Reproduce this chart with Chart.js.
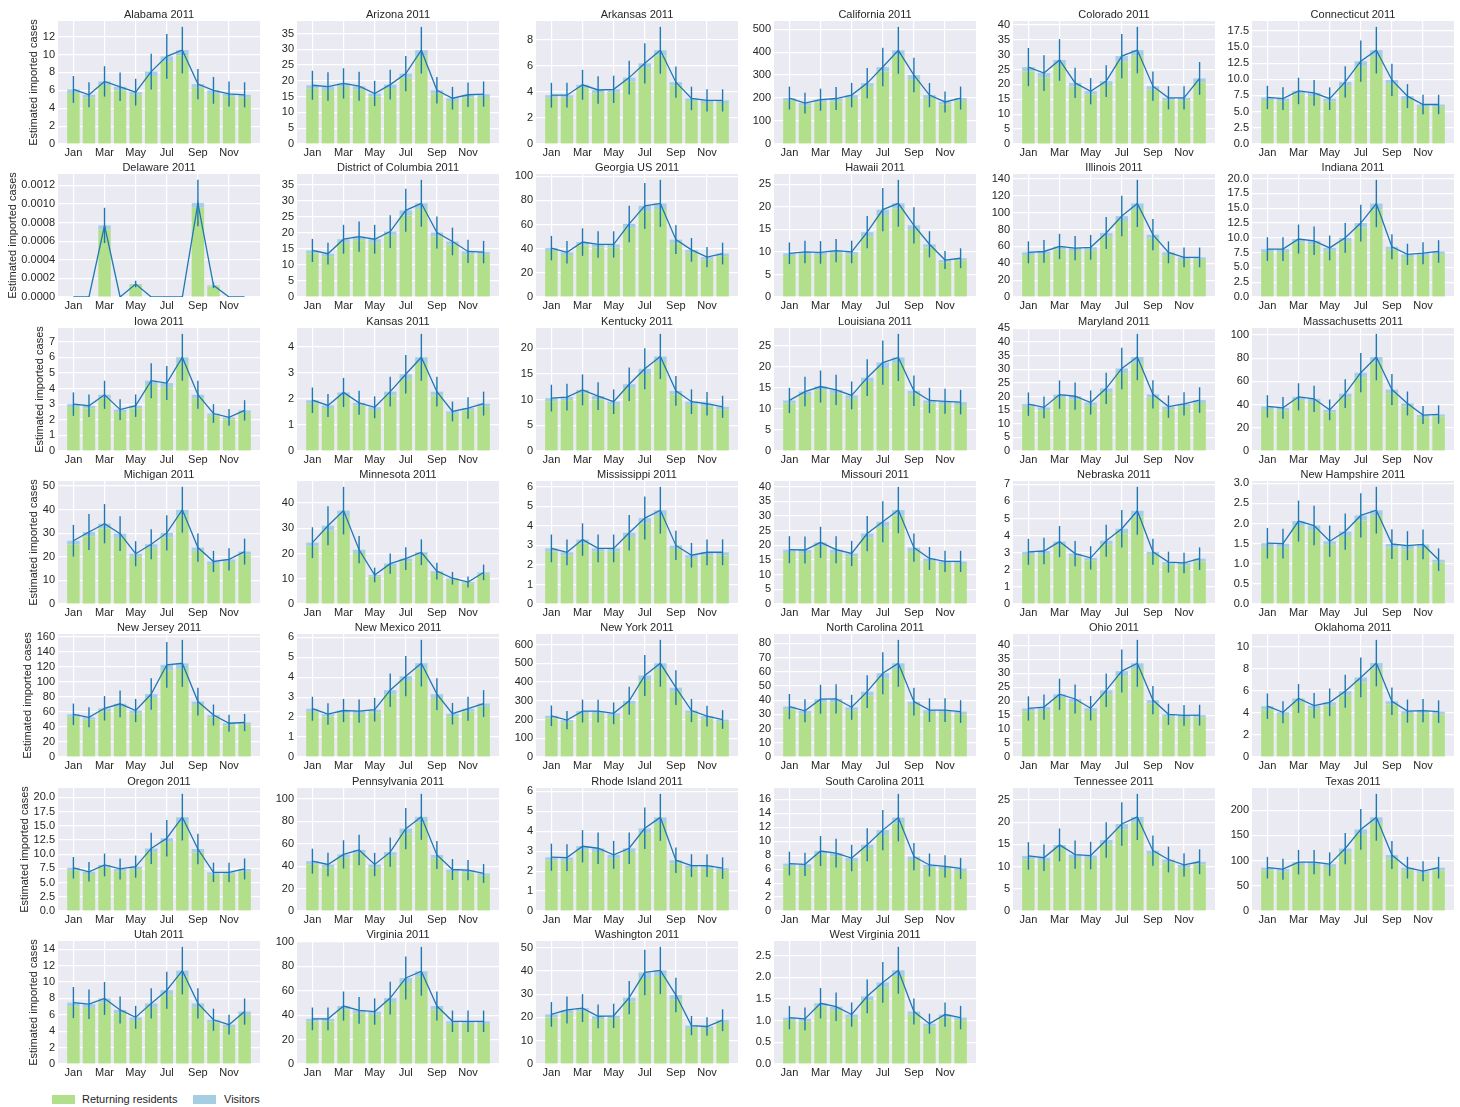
<!DOCTYPE html>
<html>
<head>
<meta charset="utf-8">
<script src="https://cdn.jsdelivr.net/npm/chart.js@4.4.0/dist/chart.umd.min.js"></script>
<style>
  body { margin: 0; background: #fff; font-family: "Liberation Sans", Arial, sans-serif; }
  #fig { position: relative; width: 1460px; height: 1107px; overflow: hidden; }
  #fig canvas { position: absolute; }
  .patch { position: absolute; width: 23px; height: 9px; }
  .ltext { position: absolute; font-size: 11px; color: #262626; line-height: 13px; }
</style>
</head>
<body>
<div id="fig">
  <div class="patch" style="left:52px;top:1095px;background:#b2df8a"></div>
  <div class="ltext" style="left:82px;top:1093px">Returning residents</div>
  <div class="patch" style="left:193px;top:1095px;background:#a6cee3"></div>
  <div class="ltext" style="left:224px;top:1093px">Visitors</div>
</div>
<script>
// month tick labels
var months = ['Jan','Feb','Mar','Apr','May','Jun','Jul','Aug','Sep','Oct','Nov','Dec'];

var states = ['Alabama','Arizona','Arkansas','California','Colorado','Connecticut',
  'Delaware','District of Columbia','Georgia US','Hawaii','Illinois','Indiana',
  'Iowa','Kansas','Kentucky','Louisiana','Maryland','Massachusetts',
  'Michigan','Minnesota','Mississippi','Missouri','Nebraska','New Hampshire',
  'New Jersey','New Mexico','New York','North Carolina','Ohio','Oklahoma',
  'Oregon','Pennsylvania','Rhode Island','South Carolina','Tennessee','Texas',
  'Utah','Virginia','Washington','West Virginia'];

// y tick step per panel
var ySteps = [2,5,2,100,5,2.5, 0.0002,5,20,5,20,2.5, 1,1,5,5,5,20, 10,10,1,5,1,0.5,
  20,1,100,10,5,2, 2.5,20,1,2,5,50, 2,20,10,0.5];

// estimated imported cases per month (residents + visitors)
var totals = [
  [6.1,5.5,7.0,6.4,5.8,8.1,9.8,10.5,6.7,6.0,5.6,5.5],
  [18.6,18.2,19.2,18.3,16.0,18.8,22.3,29.7,17.0,14.5,15.6,15.8],
  [3.75,3.75,4.55,4.15,4.2,5.1,6.2,7.2,4.75,3.5,3.35,3.35],
  [200,178,193,198,213,265,335,408,300,213,183,200],
  [25.8,23.8,28.2,20.5,17.7,21.1,29.5,31.5,19.4,15.5,15.5,22.0],
  [7.2,7.0,8.2,7.9,7.0,9.6,12.8,14.5,9.9,7.4,6.1,6.1],
  [0,0,0.00077,0,0.00014,0,0,0,0.00101,0.000125,0,0],
  [14.5,13.5,18.0,18.8,18.0,20.4,27.0,29.2,20.1,17.3,14.2,14.0],
  [40.5,37,45.5,43.5,43.5,60.5,75.5,77.5,47.5,39,33,36],
  [9.7,10.0,9.9,10.3,10.0,14.4,19.4,20.8,15.9,11.7,8.2,8.6],
  [53,54,60,58,59,76,96,111,74,53,47,47],
  [8.1,8.1,9.8,9.5,8.3,10.0,12.5,15.8,8.5,7.2,7.4,7.7],
  [3.0,2.9,3.6,2.65,2.9,4.5,4.35,6.0,3.6,2.4,2.15,2.6],
  [1.95,1.75,2.25,1.85,1.68,2.28,2.95,3.6,2.28,1.52,1.65,1.82],
  [10.3,10.5,11.9,10.7,9.6,13.0,16.0,18.4,11.7,9.6,9.2,8.6],
  [12.0,14.1,15.3,14.5,13.2,17.4,21.0,22.2,14.3,12.0,11.8,11.6],
  [17.2,16.0,20.7,20.1,17.8,23.0,30.3,34.5,20.8,16.3,17.3,18.7],
  [38.5,37.2,46.7,45.0,35.5,49.5,67.5,81.0,53.0,41.0,31.0,31.5],
  [26.8,30.5,34.0,29.8,21.3,25.3,30.1,39.9,23.9,18.0,18.9,22.2],
  [24.3,31.0,37.0,21.5,11.5,16.0,18.0,20.5,13.0,10.2,8.7,12.5],
  [2.85,2.65,3.3,2.85,2.85,3.65,4.4,4.8,3.0,2.5,2.65,2.65],
  [18.5,18.4,21.0,18.5,17.2,24.0,28.0,32.0,19.2,15.5,14.5,14.5],
  [3.05,3.1,3.65,2.95,2.7,3.7,4.4,5.45,3.05,2.45,2.4,2.65],
  [1.51,1.5,2.06,1.95,1.56,1.8,2.2,2.33,1.49,1.45,1.48,1.1],
  [57,53,65,71,62,84,123,125,74,56,45,46],
  [2.42,2.15,2.33,2.3,2.37,3.35,4.05,4.7,3.15,2.17,2.42,2.68],
  [220,197,245,245,233,300,435,500,370,248,218,200],
  [35.5,32.5,40.7,41.0,35.0,46.0,59.0,66.0,39.0,33.0,33.0,32.0],
  [17.4,17.9,22.5,20.8,17.5,23.9,30.8,33.6,20.4,15.3,14.9,15.0],
  [4.6,4.05,5.3,4.65,4.95,5.95,7.2,8.5,5.05,4.15,4.2,4.1],
  [7.6,6.9,8.1,7.4,7.8,11.0,12.8,16.5,10.9,6.8,6.8,7.4],
  [44.5,41.5,50.5,54.5,41.5,52.5,73.5,84.0,50.0,37.0,36.5,33.5],
  [2.7,2.68,3.25,3.15,2.82,3.15,4.15,4.7,2.55,2.28,2.28,2.15],
  [6.8,6.7,8.6,8.3,7.6,9.5,11.6,13.4,7.8,6.6,6.4,6.1],
  [12.4,12.0,14.9,12.7,12.5,16.0,19.6,21.2,13.6,11.6,10.4,11.1],
  [86,83,97,97,93,124,162,186,111,86,79,86],
  [7.5,7.3,8.0,6.6,5.7,7.4,9.0,11.4,7.4,5.4,4.8,6.4],
  [37,37,47.5,44,43,54,70.5,76,47.5,35,35,35],
  [21.3,23.2,24.0,20.5,20.7,28.5,39.3,40.2,29.6,16.5,16.1,18.8],
  [1.07,1.04,1.40,1.32,1.14,1.56,1.88,2.16,1.21,0.93,1.14,1.07]
];

// visitors part of each bar
var visitors = [
  [0.4,0.3,0.4,0.4,0.3,0.5,0.6,0.6,0.4,0.4,0.3,0.3],
  [1.1,1.1,1.1,1.1,1.0,1.1,1.3,1.8,1.0,0.9,0.9,0.9],
  [0.2,0.2,0.25,0.25,0.25,0.3,0.35,0.4,0.25,0.2,0.2,0.2],
  [12,10,11,12,13,16,20,24,18,13,11,12],
  [1.5,1.4,1.7,1.2,1.1,1.3,1.8,1.9,1.2,0.9,0.9,1.3],
  [0.4,0.4,0.5,0.5,0.4,0.6,0.8,0.9,0.6,0.45,0.35,0.35],
  [0,0,0.00004,0,0.00001,0,0,0,0.00005,0.00001,0,0],
  [0.9,0.8,1.1,1.1,1.1,1.2,1.6,1.8,1.2,1.0,0.9,0.8],
  [2.4,2.2,2.7,2.6,2.6,3.6,4.5,4.7,2.9,2.3,2.0,2.2],
  [0.6,0.6,0.6,0.6,0.6,0.9,1.2,1.2,1.0,0.7,0.5,0.5],
  [3.2,3.2,3.6,3.5,3.5,4.6,5.8,6.7,4.4,3.2,2.8,2.8],
  [0.5,0.5,0.6,0.6,0.5,0.6,0.75,0.95,0.5,0.45,0.45,0.45],
  [0.18,0.17,0.22,0.16,0.17,0.27,0.26,0.36,0.22,0.14,0.13,0.16],
  [0.12,0.1,0.13,0.11,0.1,0.14,0.18,0.22,0.14,0.09,0.1,0.11],
  [0.6,0.6,0.7,0.65,0.6,0.8,1.0,1.1,0.7,0.6,0.55,0.5],
  [0.7,0.85,0.9,0.9,0.8,1.0,1.3,1.3,0.85,0.7,0.7,0.7],
  [1.0,1.0,1.2,1.2,1.1,1.4,1.8,2.1,1.25,1.0,1.0,1.1],
  [2.3,2.2,2.8,2.7,2.1,3.0,4.0,4.9,3.2,2.5,1.9,1.9],
  [1.6,1.8,2.0,1.8,1.3,1.5,1.8,2.4,1.4,1.1,1.1,1.3],
  [1.5,1.9,2.2,1.3,0.7,1.0,1.1,1.2,0.8,0.6,0.5,0.75],
  [0.17,0.16,0.2,0.17,0.17,0.22,0.26,0.29,0.18,0.15,0.16,0.16],
  [1.1,1.1,1.3,1.1,1.0,1.4,1.7,1.9,1.15,0.9,0.9,0.9],
  [0.18,0.19,0.22,0.18,0.16,0.22,0.26,0.33,0.18,0.15,0.14,0.16],
  [0.09,0.09,0.12,0.12,0.09,0.11,0.13,0.14,0.09,0.09,0.09,0.07],
  [3.4,3.2,3.9,4.3,3.7,5.0,7.4,7.5,4.4,3.4,2.7,2.8],
  [0.15,0.13,0.14,0.14,0.14,0.2,0.24,0.28,0.19,0.13,0.15,0.16],
  [13,12,15,15,14,18,26,30,22,15,13,12],
  [2.1,2.0,2.4,2.5,2.1,2.8,3.5,4.0,2.3,2.0,2.0,1.9],
  [1.0,1.1,1.35,1.25,1.05,1.4,1.85,2.0,1.2,0.9,0.9,0.9],
  [0.28,0.24,0.32,0.28,0.3,0.36,0.43,0.51,0.3,0.25,0.25,0.25],
  [0.45,0.4,0.5,0.45,0.45,0.65,0.75,1.0,0.65,0.4,0.4,0.45],
  [2.7,2.5,3.0,3.3,2.5,3.2,4.4,5.0,3.0,2.2,2.2,2.0],
  [0.16,0.16,0.2,0.19,0.17,0.19,0.25,0.28,0.15,0.14,0.14,0.13],
  [0.4,0.4,0.5,0.5,0.45,0.57,0.7,0.8,0.47,0.4,0.38,0.37],
  [0.75,0.7,0.9,0.75,0.75,0.95,1.2,1.3,0.8,0.7,0.6,0.65],
  [5.2,5.0,5.8,5.8,5.6,7.4,9.7,11.2,6.7,5.2,4.7,5.2],
  [0.45,0.45,0.5,0.4,0.35,0.45,0.55,0.7,0.45,0.3,0.3,0.4],
  [2.2,2.2,2.9,2.6,2.6,3.2,4.2,4.6,2.9,2.1,2.1,2.1],
  [1.3,1.4,1.4,1.2,1.2,1.7,2.4,2.4,1.8,1.0,1.0,1.1],
  [0.06,0.06,0.08,0.08,0.07,0.09,0.11,0.13,0.07,0.06,0.07,0.06]
];

// half length of the error bars
var errors = [
  [1.5,1.4,1.7,1.6,1.5,2.0,2.5,2.6,1.7,1.5,1.4,1.4],
  [4.6,4.5,4.8,4.6,4.0,4.7,5.6,7.4,4.2,3.6,3.9,4.0],
  [0.95,0.95,1.15,1.05,1.05,1.3,1.55,1.8,1.2,0.9,0.85,0.85],
  [50,45,48,50,53,66,84,102,75,53,46,50],
  [6.4,6.0,7.0,5.1,4.4,5.3,7.4,7.8,4.9,3.9,3.9,5.5],
  [1.8,1.75,2.05,2.0,1.75,2.4,3.2,3.6,2.5,1.85,1.5,1.5],
  [0,0,0.00019,0,0.000035,0,0,0,0.00025,0.00003,0,0],
  [3.6,3.4,4.5,4.7,4.5,5.1,6.7,7.3,5.0,4.3,3.6,3.5],
  [10.1,9.3,11.4,10.9,10.9,15.1,19,19.5,11.9,9.8,8.3,9],
  [2.4,2.5,2.5,2.6,2.5,3.6,4.8,5.2,4.0,2.9,2.0,2.2],
  [13,13.5,15,14.5,14.7,19,24,28,18.5,13,11.7,11.7],
  [2.0,2.0,2.45,2.4,2.1,2.5,3.1,4.0,2.1,1.8,1.85,1.9],
  [0.75,0.72,0.9,0.66,0.72,1.12,1.09,1.5,0.9,0.6,0.54,0.65],
  [0.49,0.44,0.56,0.46,0.42,0.57,0.74,0.9,0.57,0.38,0.41,0.46],
  [2.6,2.6,3.0,2.7,2.4,3.25,4.0,4.4,2.9,2.4,2.3,2.15],
  [3.0,3.5,3.8,3.6,3.3,4.35,5.25,5.6,3.6,3.0,2.95,2.9],
  [4.3,4.0,5.2,5.0,4.45,5.75,7.6,8.5,5.2,4.1,4.3,4.7],
  [9.6,9.3,11.7,11.3,8.9,12.4,16.9,20.0,13.3,10.3,7.8,7.9],
  [6.7,7.6,8.3,7.4,5.3,6.3,7.5,9.7,6.0,4.5,4.7,5.5],
  [6.1,7.7,9.4,5.4,2.9,4.0,4.5,5.1,3.3,2.5,2.2,3.1],
  [0.71,0.66,0.83,0.71,0.71,0.91,1.1,1.2,0.75,0.63,0.66,0.66],
  [4.6,4.6,5.3,4.6,4.3,6.0,7.0,7.9,4.8,3.9,3.6,3.6],
  [0.76,0.78,0.91,0.74,0.68,0.93,1.1,1.4,0.76,0.61,0.6,0.66],
  [0.38,0.37,0.51,0.49,0.39,0.45,0.55,0.58,0.37,0.36,0.37,0.28],
  [14.3,13.3,16.3,17.8,15.5,21,30.5,31.3,18.5,14,11.3,11.5],
  [0.6,0.54,0.58,0.58,0.59,0.84,1.01,1.17,0.79,0.54,0.6,0.67],
  [55,49,61,61,58,75,109,125,93,62,55,50],
  [8.9,8.1,10.2,10.3,8.8,11.5,14.8,16.5,9.8,8.3,8.3,8.0],
  [4.35,4.5,5.6,5.2,4.4,6.0,7.7,8.4,5.1,3.8,3.7,3.75],
  [1.15,1.0,1.3,1.15,1.25,1.5,1.8,2.1,1.25,1.05,1.05,1.02],
  [1.9,1.7,2.0,1.85,1.95,2.75,3.2,4.1,2.7,1.7,1.7,1.85],
  [11.1,10.4,12.6,13.6,10.4,13.1,18.4,20.5,12.5,9.3,9.1,8.4],
  [0.68,0.67,0.81,0.79,0.7,0.79,1.04,1.18,0.64,0.57,0.57,0.54],
  [1.7,1.67,2.15,2.07,1.9,2.37,2.9,3.4,1.95,1.65,1.6,1.52],
  [3.1,3.0,3.7,3.2,3.1,4.0,4.9,5.2,3.4,2.9,2.6,2.8],
  [21.5,20.8,24.3,24.3,23.3,31,40.5,46.5,27.8,21.5,19.8,21.5],
  [1.9,1.8,2.0,1.65,1.4,1.85,2.25,2.9,1.85,1.35,1.2,1.6],
  [9.3,9.3,11.9,11,10.8,13.5,17.6,20,11.9,8.8,8.8,8.8],
  [5.3,5.8,6.0,5.1,5.2,7.1,9.8,10.1,7.4,4.1,4.0,4.7],
  [0.27,0.26,0.35,0.33,0.28,0.39,0.47,0.54,0.3,0.23,0.28,0.27]
];

Chart.defaults.font.family = '"Liberation Sans", Arial, sans-serif';
Chart.defaults.font.size = 11;
Chart.defaults.color = '#262626';

var bgPlugin = {
  id: 'bg',
  beforeDraw: function(chart) {
    var a = chart.chartArea, ctx = chart.ctx;
    ctx.save();
    ctx.fillStyle = '#eaeaf2';
    ctx.fillRect(a.left, a.top, a.right - a.left, a.bottom - a.top);
    ctx.restore();
  }
};

var errPlugin = {
  id: 'errbars',
  afterDatasetsDraw: function(chart) {
    var o = chart.options.plugins.errbars;
    var xs = chart.scales.x, ys = chart.scales.y, ctx = chart.ctx;
    ctx.save();
    ctx.strokeStyle = '#1f78b4';
    ctx.lineWidth = 1.4;
    o.mid.forEach(function(v, i) {
      var x = xs.getPixelForValue(i);
      ctx.beginPath();
      ctx.moveTo(x, ys.getPixelForValue(v - o.err[i]));
      ctx.lineTo(x, ys.getPixelForValue(v + o.err[i]));
      ctx.stroke();
    });
    ctx.restore();
  }
};

var ylabelPlugin = {
  id: 'ylabel',
  afterDraw: function(chart) {
    if (!chart.options.plugins.ylabel.show) return;
    var ys = chart.scales.y, ctx = chart.ctx, a = chart.chartArea;
    ctx.save();
    ctx.font = '11px "Liberation Sans", Arial, sans-serif';
    var w = 0;
    ys.ticks.forEach(function(t) { w = Math.max(w, ctx.measureText(t.label).width); });
    ctx.translate(a.left - 3 - w - 3, (a.top + a.bottom) / 2);
    ctx.rotate(-Math.PI / 2);
    ctx.textAlign = 'center';
    ctx.textBaseline = 'bottom';
    ctx.fillStyle = '#262626';
    ctx.fillText('Estimated imported cases', 0, 0);
    ctx.restore();
  }
};

var fig = document.getElementById('fig');
var W = 202, H = 123, titleH = 12, xh = 22, padR = 6;

states.forEach(function(name, k) {
  var col = k % 6, row = Math.floor(k / 6);
  var plotL = Math.round(58 + col * 238.8);
  var plotT = Math.round(21 + row * 153.3);
  var yw = col === 0 ? 58 : 40;

  var cv = document.createElement('canvas');
  cv.width = yw + W + padR;
  cv.height = titleH + H + xh;
  cv.style.left = (plotL - yw) + 'px';
  cv.style.top = (plotT - titleH) + 'px';
  cv.style.width = cv.width + 'px';
  cv.style.height = cv.height + 'px';
  fig.appendChild(cv);

  var tot = totals[k], vis = visitors[k], err = errors[k], step = ySteps[k];
  var res = tot.map(function(v, i) { return v - vis[i]; });
  var hi = Math.max.apply(null, tot.map(function(v, i) { return v + err[i]; }));
  var dec = (String(step).split('.')[1] || '').length;

  new Chart(cv, {
    type: 'bar',
    data: {
      datasets: [
        {
          type: 'line', order: 0,
          data: tot.map(function(v, i) { return {x: i, y: v}; }),
          borderColor: '#1f78b4', borderWidth: 1.3, pointRadius: 0, tension: 0
        },
        {
          order: 1, backgroundColor: '#b2df8a',
          data: res.map(function(v, i) { return {x: i, y: v}; }),
          barPercentage: 0.8, categoryPercentage: 1
        },
        {
          order: 1, backgroundColor: '#a6cee3',
          data: vis.map(function(v, i) { return {x: i, y: v}; }),
          barPercentage: 0.8, categoryPercentage: 1
        }
      ]
    },
    options: {
      responsive: false,
      animation: false,
      events: [],
      layout: { padding: { left: 0, right: padR, top: 0, bottom: 0 } },
      scales: {
        x: {
          type: 'linear', min: -0.99, max: 11.99, offset: false, stacked: true,
          afterBuildTicks: function(s) { s.ticks = [0, 2, 4, 6, 8, 10].map(function(v) { return {value: v}; }); },
          afterFit: function(s) { s.height = xh; },
          ticks: { padding: 2, maxRotation: 0, autoSkip: false,
            callback: function(v) { return months[v]; } },
          grid: { color: '#ffffff', lineWidth: 1.2, drawTicks: false, offset: false },
          border: { display: false }
        },
        y: {
          stacked: true, min: 0, max: hi * 1.05,
          afterBuildTicks: function(s) {
            var t = [];
            for (var j = 0; j * step <= s.max + 1e-12; j++) t.push({value: +(j * step).toFixed(10)});
            s.ticks = t;
          },
          afterFit: function(s) { s.width = yw; },
          ticks: { padding: 3, autoSkip: false, callback: function(v) { return Number(v).toFixed(dec); } },
          grid: { color: '#ffffff', lineWidth: 1.2, drawTicks: false },
          border: { display: false }
        }
      },
      plugins: {
        legend: { display: false },
        tooltip: { enabled: false },
        title: {
          display: true, text: name + ' 2011', fullSize: false,
          font: { size: 11, weight: 'normal', lineHeight: 1 },
          padding: { top: 0, bottom: 1 }, color: '#262626'
        },
        errbars: { mid: tot, err: err },
        ylabel: { show: col === 0 }
      }
    },
    plugins: [bgPlugin, errPlugin, ylabelPlugin]
  });
});
</script>
</body>
</html>
